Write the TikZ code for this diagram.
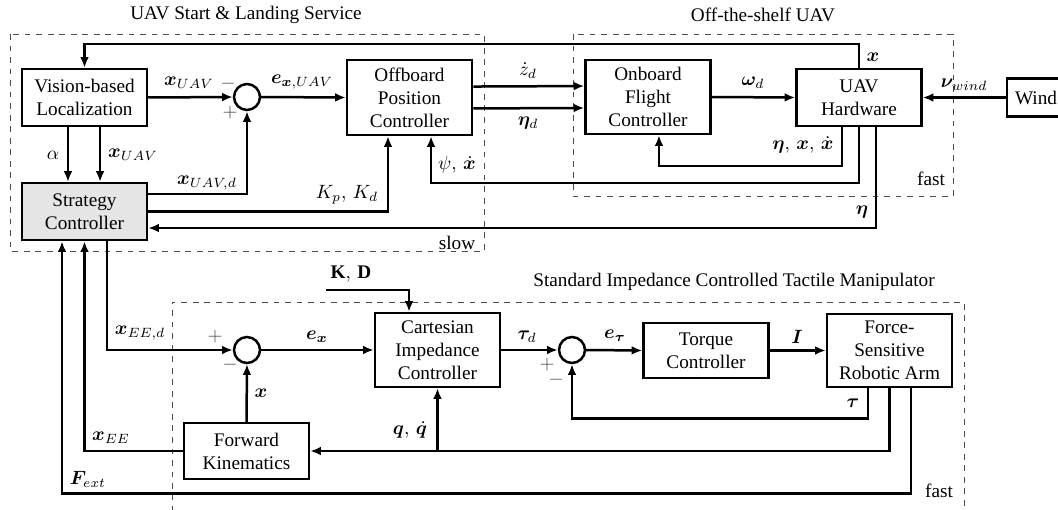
\documentclass[tikz,border=0pt]{standalone}
\usepackage{fontspec}
\setmainfont{Liberation Serif}
\usepackage{bm}
\usetikzlibrary{arrows.meta}

\begin{document}
\begin{tikzpicture}[x=0.52pt,y=-0.52pt,>={Latex[length=5.5pt,width=4.5pt]},
    block/.style={draw,line width=1.3pt,align=center,inner sep=1pt,minimum width=65pt},
    sumnode/.style={draw,circle,line width=1.3pt,minimum size=13.5pt,inner sep=0pt},
    conn/.style={line width=1.3pt},
    grp/.style={draw=black!70,dashed,line width=0.5pt},
    lbl/.style={inner sep=0.5pt},
    sgn/.style={black!70,inner sep=0pt}]
    \useasboundingbox (0,0) rectangle (1058,510);

    % dashed groups
    \draw[grp] (10,34) rectangle (484,251);
    \draw[grp] (573,34) rectangle (953,196);
    \draw[grp] (172,512) -- (172,302) -- (964,302) -- (964,512);
    \node (ttlsvc) at (246,15) {UAV Start \& Landing Service};
    \node (ttluav) at (763,15) {Off-the-shelf UAV};
    \node (ttlarm) at (734,282) {Standard Impedance Controlled Tactile Manipulator};
    \node[lbl] (slow) at (457,243) {slow};
    \node[lbl] (fastuav) at (931,179) {fast};
    \node[lbl] (fastarm) at (939,491) {fast};

    % blocks
    \node[block,minimum height=29.6pt] (vis) at (84.5,97.5) {Vision-based\\Localization};
    \node[block,minimum height=29.6pt,fill=black!10] (strat) at (84.5,211.5) {Strategy\\Controller};
    \node[block,minimum height=39pt] (offb) at (409.5,97.5) {Offboard\\Position\\Controller};
    \node[block,minimum height=38.5pt] (onb) at (648,97) {Onboard\\Flight\\Controller};
    \node[block,minimum height=29.6pt] (hw) at (859,97.5) {UAV\\Hardware};
    \node[block,minimum width=30pt,minimum height=20pt] (wind) at (1036,97.5) {Wind};
    \node[block,minimum height=38.5pt] (cart) at (437.5,350) {Cartesian\\Impedance\\Controller};
    \node[block,minimum height=28.6pt] (torq) at (706,350.5) {Torque\\Controller};
    \node[block,minimum height=38pt] (arm) at (889.5,350.5) {Force-\\Sensitive\\Robotic Arm};
    \node[block,minimum height=29pt] (fk) at (246.5,451) {Forward\\Kinematics};
    \node[sumnode] (sum1) at (247,97) {};
    \node[sumnode] (sum2) at (247,350) {};
    \node[sumnode] (sum3) at (572,350) {};
    \coordinate (kd) at (326,290);

    % UAV loop
    \draw[conn,->] (vis.east) -- (sum1.west);
    \draw[conn,->] (sum1.east) -- (offb.west);
    \draw[conn,->] ([xshift=-8.6pt]vis.south) -- ([xshift=-8.6pt]strat.north);
    \draw[conn,->] ([xshift=8.1pt]vis.south) -- ([xshift=8.1pt]strat.north);
    \draw[conn,->] (hw.north) -- ++(0,-24) -| (vis.north);
    \draw[conn,->] ([yshift=9.1pt]strat.east) -| (sum1.south);
    \draw[conn,->] (strat.east) -| ([xshift=-11.2pt]offb.south);
    \draw[conn,->] ([xshift=8.8pt]hw.south) |- ([yshift=-8.6pt]strat.east);
    \draw[conn,->] (hw.south) -- ++(0,56) -| ([xshift=11.2pt]offb.south);
    \draw[conn,->] ([xshift=-8.8pt]hw.south) -- ++(0,39) -| ([xshift=5.7pt]onb.south);
    \draw[conn,->] ([yshift=5.7pt]offb.east) -- ([yshift=5.7pt]onb.west);
    \draw[conn,->] ([yshift=-5.7pt]offb.east) -- ([yshift=-5.7pt]onb.west);
    \draw[conn,->] (onb.east) -- (hw.west);
    \draw[conn,->] (wind.west) -- (hw.east);

    % manipulator loop
    \draw[conn,->] ([xshift=11.7pt]strat.south) |- (sum2.west);
    \draw[conn,->] (fk.west) -| (strat.south);
    \draw[conn,->] ([xshift=11.2pt]arm.south) -- ++(0,105) -| ([xshift=-11.7pt]strat.south);
    \draw[conn,->] (fk.north) -- (sum2.south);
    \draw[conn,->] (sum2.east) -- (cart.west);
    \draw[conn,->] (kd) -| ([xshift=-14.8pt]cart.north);
    \draw[conn,->] (cart.east) -- (sum3.west);
    \draw[conn,->] (sum3.east) -- (torq.west);
    \draw[conn,->] (torq.east) -- (arm.west);
    \draw[conn,->] ([xshift=-11.2pt]arm.south) -- ++(0,30) -| (sum3.south);
    \draw[conn,->] (arm.south) |- (fk.east);
    \draw[conn,->] (cart.south |- fk.east) -- (cart.south);

    % signal labels
    \node[lbl] (lxuav) at (189,83) {$\bm{x}_{UAV}$};
    \node[sgn] (m1) at (228,84) {$-$};
    \node[sgn] (p1) at (230,113) {$+$};
    \node[lbl] (lexuav) at (302,82) {$\bm{e}_{\bm{x},UAV}$};
    \node[lbl] (lalpha) at (53,155) {$\alpha$};
    \node[lbl] (lxuavs) at (133,155) {$\bm{x}_{UAV}$};
    \node[lbl] (lxuavd) at (207,183) {$\bm{x}_{UAV,d}$};
    \node[lbl] (lkpkd) at (347,195) {$K_p,\,K_d$};
    \node[lbl] (lzd) at (528,71) {$\dot{z}_d$};
    \node[lbl] (letad) at (528,123) {$\bm{\eta}_d$};
    \node[lbl] (lpsi) at (457,165) {$\psi,\,\dot{\bm{x}}$};
    \node[lbl] (lomega) at (753,83) {$\bm{\omega}_d$};
    \node[lbl] (lnu) at (964,85) {$\bm{\nu}_{wind}$};
    \node[lbl] (lxhw) at (873,57) {$\bm{x}$};
    \node[lbl] (letaxx) at (803,145) {$\bm{\eta},\,\bm{x},\,\dot{\bm{x}}$};
    \node[lbl] (leta) at (862,212) {$\bm{\eta}$};
    \node[lbl] (lxeed) at (140,333) {$\bm{x}_{EE,d}$};
    \node[sgn] (p2) at (215,337) {$+$};
    \node[sgn] (m2) at (230,365) {$-$};
    \node[lbl] (lxfk) at (261,393) {$\bm{x}$};
    \node[lbl] (lex) at (317,337) {$\bm{e}_{\bm{x}}$};
    \node[lbl] (lxee) at (111,438) {$\bm{x}_{EE}$};
    \node[lbl] (lfext) at (88,479) {$\bm{F}_{ext}$};
    \node[lbl] (lkd) at (351,274) {$\mathbf{K},\,\mathbf{D}$};
    \node[lbl] (ltaud) at (527,337) {$\bm{\tau}_d$};
    \node[sgn] (p3) at (547,365) {$+$};
    \node[sgn] (m3) at (556,380) {$-$};
    \node[lbl] (letau) at (615,336) {$\bm{e}_{\bm{\tau}}$};
    \node[lbl] (lqq) at (410,430) {$\bm{q},\,\dot{\bm{q}}$};
    \node[lbl] (lcur) at (797,337) {$\bm{I}$};
    \node[lbl] (ltau) at (853,403) {$\bm{\tau}$};
\end{tikzpicture}
\end{document}
